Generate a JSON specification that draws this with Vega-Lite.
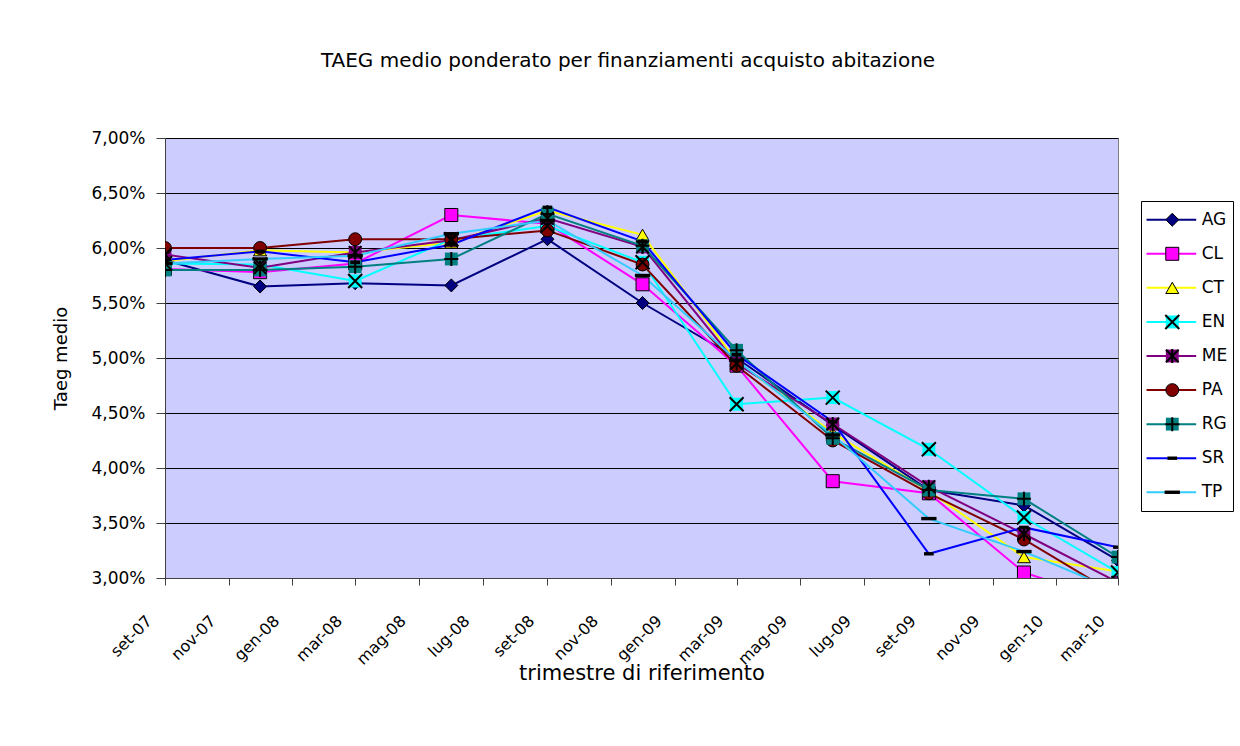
{
  "$schema": "https://vega.github.io/schema/vega-lite/v6.json",
  "background": "white",
  "padding": {"left": 52, "top": 50, "right": 6, "bottom": 10},
  "title": {"text": "TAEG medio ponderato per finanziamenti acquisto abitazione", "fontSize": 20, "fontWeight": "normal", "font": "DejaVu Sans", "color": "#000", "anchor": "middle", "offset": 58, "dx": -15},
  "datasets": {
    "taeg": [
      {"date": "2007-09-01", "series": "AG", "value": 0.0589}, {"date": "2007-12-01", "series": "AG", "value": 0.0565}, {"date": "2008-03-01", "series": "AG", "value": 0.0568}, {"date": "2008-06-01", "series": "AG", "value": 0.0566}, {"date": "2008-09-01", "series": "AG", "value": 0.0608}, {"date": "2008-12-01", "series": "AG", "value": 0.0550}, {"date": "2009-03-01", "series": "AG", "value": 0.0500}, {"date": "2009-06-01", "series": "AG", "value": 0.0439}, {"date": "2009-09-01", "series": "AG", "value": 0.0380}, {"date": "2009-12-01", "series": "AG", "value": 0.0366}, {"date": "2010-03-01", "series": "AG", "value": 0.0316},
      {"date": "2007-09-01", "series": "CL", "value": 0.0581}, {"date": "2007-12-01", "series": "CL", "value": 0.0578}, {"date": "2008-03-01", "series": "CL", "value": 0.0586}, {"date": "2008-06-01", "series": "CL", "value": 0.0630}, {"date": "2008-09-01", "series": "CL", "value": 0.0622}, {"date": "2008-12-01", "series": "CL", "value": 0.0567}, {"date": "2009-03-01", "series": "CL", "value": 0.0493}, {"date": "2009-06-01", "series": "CL", "value": 0.0388}, {"date": "2009-09-01", "series": "CL", "value": 0.0377}, {"date": "2009-12-01", "series": "CL", "value": 0.0305}, {"date": "2010-03-01", "series": "CL", "value": 0.0277},
      {"date": "2007-09-01", "series": "CT", "value": 0.0588}, {"date": "2007-12-01", "series": "CT", "value": 0.0598}, {"date": "2008-03-01", "series": "CT", "value": 0.0596}, {"date": "2008-06-01", "series": "CT", "value": 0.0605}, {"date": "2008-09-01", "series": "CT", "value": 0.0634}, {"date": "2008-12-01", "series": "CT", "value": 0.0612}, {"date": "2009-03-01", "series": "CT", "value": 0.0497}, {"date": "2009-06-01", "series": "CT", "value": 0.0432}, {"date": "2009-09-01", "series": "CT", "value": 0.0379}, {"date": "2009-12-01", "series": "CT", "value": 0.0319}, {"date": "2010-03-01", "series": "CT", "value": 0.0306},
      {"date": "2007-09-01", "series": "EN", "value": 0.0586}, {"date": "2007-12-01", "series": "EN", "value": 0.0585}, {"date": "2008-03-01", "series": "EN", "value": 0.0570}, {"date": "2008-06-01", "series": "EN", "value": 0.0608}, {"date": "2008-09-01", "series": "EN", "value": 0.0620}, {"date": "2008-12-01", "series": "EN", "value": 0.0587}, {"date": "2009-03-01", "series": "EN", "value": 0.0458}, {"date": "2009-06-01", "series": "EN", "value": 0.0464}, {"date": "2009-09-01", "series": "EN", "value": 0.0417}, {"date": "2009-12-01", "series": "EN", "value": 0.0355}, {"date": "2010-03-01", "series": "EN", "value": 0.0305},
      {"date": "2007-09-01", "series": "ME", "value": 0.0594}, {"date": "2007-12-01", "series": "ME", "value": 0.0582}, {"date": "2008-03-01", "series": "ME", "value": 0.0596}, {"date": "2008-06-01", "series": "ME", "value": 0.0607}, {"date": "2008-09-01", "series": "ME", "value": 0.0627}, {"date": "2008-12-01", "series": "ME", "value": 0.0601}, {"date": "2009-03-01", "series": "ME", "value": 0.0495}, {"date": "2009-06-01", "series": "ME", "value": 0.0440}, {"date": "2009-09-01", "series": "ME", "value": 0.0383}, {"date": "2009-12-01", "series": "ME", "value": 0.0340}, {"date": "2010-03-01", "series": "ME", "value": 0.0296},
      {"date": "2007-09-01", "series": "PA", "value": 0.0600}, {"date": "2007-12-01", "series": "PA", "value": 0.0600}, {"date": "2008-03-01", "series": "PA", "value": 0.0608}, {"date": "2008-06-01", "series": "PA", "value": 0.0608}, {"date": "2008-09-01", "series": "PA", "value": 0.0616}, {"date": "2008-12-01", "series": "PA", "value": 0.0585}, {"date": "2009-03-01", "series": "PA", "value": 0.0493}, {"date": "2009-06-01", "series": "PA", "value": 0.0425}, {"date": "2009-09-01", "series": "PA", "value": 0.0377}, {"date": "2009-12-01", "series": "PA", "value": 0.0335}, {"date": "2010-03-01", "series": "PA", "value": 0.0284},
      {"date": "2007-09-01", "series": "RG", "value": 0.0580}, {"date": "2007-12-01", "series": "RG", "value": 0.0580}, {"date": "2008-03-01", "series": "RG", "value": 0.0583}, {"date": "2008-06-01", "series": "RG", "value": 0.0590}, {"date": "2008-09-01", "series": "RG", "value": 0.0631}, {"date": "2008-12-01", "series": "RG", "value": 0.0602}, {"date": "2009-03-01", "series": "RG", "value": 0.0507}, {"date": "2009-06-01", "series": "RG", "value": 0.0427}, {"date": "2009-09-01", "series": "RG", "value": 0.0380}, {"date": "2009-12-01", "series": "RG", "value": 0.0372}, {"date": "2010-03-01", "series": "RG", "value": 0.0319},
      {"date": "2007-09-01", "series": "SR", "value": 0.0589}, {"date": "2007-12-01", "series": "SR", "value": 0.0597}, {"date": "2008-03-01", "series": "SR", "value": 0.0587}, {"date": "2008-06-01", "series": "SR", "value": 0.0603}, {"date": "2008-09-01", "series": "SR", "value": 0.0637}, {"date": "2008-12-01", "series": "SR", "value": 0.0606}, {"date": "2009-03-01", "series": "SR", "value": 0.0503}, {"date": "2009-06-01", "series": "SR", "value": 0.0442}, {"date": "2009-09-01", "series": "SR", "value": 0.0322}, {"date": "2009-12-01", "series": "SR", "value": 0.0346}, {"date": "2010-03-01", "series": "SR", "value": 0.0328},
      {"date": "2007-09-01", "series": "TP", "value": 0.0586}, {"date": "2007-12-01", "series": "TP", "value": 0.0590}, {"date": "2008-03-01", "series": "TP", "value": 0.0593}, {"date": "2008-06-01", "series": "TP", "value": 0.0613}, {"date": "2008-09-01", "series": "TP", "value": 0.0625}, {"date": "2008-12-01", "series": "TP", "value": 0.0575}, {"date": "2009-03-01", "series": "TP", "value": 0.0498}, {"date": "2009-06-01", "series": "TP", "value": 0.0430}, {"date": "2009-09-01", "series": "TP", "value": 0.0354}, {"date": "2009-12-01", "series": "TP", "value": 0.0324}, {"date": "2010-03-01", "series": "TP", "value": 0.0288}
    ]
  },
  "data": {"name": "taeg"},
  "spacing": 21,
  "resolve": {"scale": {"x": "independent", "y": "independent", "color": "independent", "shape": "independent", "size": "independent", "stroke": "independent"}},
  "hconcat": [
    {
      "width": 953,
      "height": 440,
      "view": {"fill": "#CCCCFF", "stroke": "#808080"},
      "encoding": {
        "x": {
          "field": "date", "type": "temporal",
          "scale": {"type": "utc", "domain": [{"year": 2007, "month": 9, "date": 1, "utc": true}, {"year": 2010, "month": 3, "date": 1, "utc": true}], "nice": false},
          "axis": {
            "title": "trimestre di riferimento", "grid": false,
            "tickCount": {"interval": "month", "step": 2},
            "labelExpr": "['gen','feb','mar','apr','mag','giu','lug','ago','set','ott','nov','dic'][utcmonth(datum.value)] + '-' + utcFormat(datum.value, '%y')",
            "labelAngle": -45, "labelAlign": "right", "labelBaseline": "middle",
            "labelOffset": -16, "labelPadding": 33, "tickSize": 7,
            "labelOverlap": false, "labelFlush": false,
            "labelFontSize": 16, "titleFontSize": 21, "titlePadding": -5
          }
        },
        "y": {
          "field": "value", "type": "quantitative",
          "scale": {"domain": [0.03, 0.07], "nice": false, "zero": false},
          "axis": {
            "title": "Taeg medio",
            "values": [0.03, 0.035, 0.04, 0.045, 0.05, 0.055, 0.06, 0.065, 0.07],
            "labelExpr": "replace(format(datum.value, '.2%'), '.', ',')",
            "grid": true, "gridColor": "#000", "gridOpacity": 1, "gridWidth": 1,
            "tickSize": 9, "labelPadding": 11, "titlePadding": 20,
            "labelFontSize": 17, "titleFontSize": 18
          }
        }
      },
      "layer": [
        {
          "mark": {"type": "line", "strokeWidth": 2, "clip": true},
          "encoding": {
            "color": {"field": "series", "type": "nominal", "scale": {"domain": ["AG", "CL", "CT", "EN", "ME", "PA", "RG", "SR", "TP"], "range": ["#000080", "#FF00FF", "#FFFF00", "#00FFFF", "#800080", "#800000", "#008080", "#0000FF", "#33CCFF"]}, "legend": null}
          }
        },
        {
          "transform": [{"filter": {"field": "series", "oneOf": ["AG", "CL", "CT", "EN", "ME", "PA", "RG"]}}],
          "mark": {"type": "point", "filled": true, "opacity": 1, "strokeWidth": 1, "clip": true},
          "encoding": {
            "color": {"field": "series", "type": "nominal", "scale": {"domain": ["AG", "CL", "CT", "EN", "ME", "PA", "RG", "SR", "TP"], "range": ["#000080", "#FF00FF", "#FFFF00", "#00FFFF", "#800080", "#800000", "#008080", "#0000FF", "#33CCFF"]}, "legend": null},
            "shape": {"field": "series", "type": "nominal", "scale": {"domain": ["AG", "CL", "CT", "EN", "ME", "PA", "RG"], "range": ["diamond", "square", "triangle-up", "square", "square", "circle", "square"]}, "legend": null},
            "size": {"field": "series", "type": "ordinal", "scale": {"domain": ["AG", "CL", "CT", "EN", "ME", "PA", "RG"], "range": [170, 165, 190, 324, 324, 144, 324]}, "legend": null},
            "stroke": {"field": "series", "type": "nominal", "scale": {"domain": ["AG", "CL", "CT", "EN", "ME", "PA", "RG"], "range": ["#000000", "#000000", "#000000", "transparent", "transparent", "#000000", "transparent"]}, "legend": null}
          }
        },
        {
          "transform": [{"filter": {"field": "series", "oneOf": ["EN", "ME", "RG", "SR", "TP"]}}],
          "mark": {"type": "point", "filled": true, "fill": "#000", "stroke": "#000", "strokeWidth": 2, "size": 196, "opacity": 1, "clip": true},
          "encoding": {
            "shape": {"field": "series", "type": "nominal", "scale": {"domain": ["EN", "ME", "RG", "SR", "TP"], "range": ["M-1,-1L1,1M-1,1L1,-1", "M-0.9,-0.9L0.9,0.9M-0.9,0.9L0.9,-0.9M0,-1L0,1", "M-1,0L1,0M0,-1L0,1", "M-0.55,-0.1L0.55,-0.1L0.55,0.1L-0.55,0.1Z", "M-0.95,-0.1L0.95,-0.1L0.95,0.1L-0.95,0.1Z"]}, "legend": null}
          }
        }
      ],
      "resolve": {"scale": {"shape": "independent"}}
    },
    {
      "spacing": 20,
      "vconcat": [
        {
          "width": 92,
          "height": 42,
          "view": {"fill": null, "stroke": null},
          "transform": [{"filter": "false"}],
          "mark": {"type": "text"},
          "encoding": {}
        },
        {
          "width": 92,
          "height": 310,
          "view": {"fill": "white", "stroke": "#000"},
          "transform": [{"aggregate": [{"op": "count", "as": "n"}], "groupby": ["series"]}],
          "encoding": {
            "y": {"field": "series", "type": "nominal", "scale": {"type": "point", "domain": ["AG", "CL", "CT", "EN", "ME", "PA", "RG", "SR", "TP"], "padding": 0.55}, "axis": null}
          },
          "layer": [
            {
              "mark": {"type": "rule", "strokeWidth": 2},
              "encoding": {
                "x": {"datum": 0.06, "type": "quantitative", "scale": {"domain": [0, 1]}, "axis": null},
                "x2": {"datum": 0.6},
                "color": {"field": "series", "type": "nominal", "scale": {"domain": ["AG", "CL", "CT", "EN", "ME", "PA", "RG", "SR", "TP"], "range": ["#000080", "#FF00FF", "#FFFF00", "#00FFFF", "#800080", "#800000", "#008080", "#0000FF", "#33CCFF"]}, "legend": null}
              }
            },
            {
              "transform": [{"filter": {"field": "series", "oneOf": ["AG", "CL", "CT", "EN", "ME", "PA", "RG"]}}],
              "mark": {"type": "point", "filled": true, "opacity": 1, "strokeWidth": 1},
              "encoding": {
                "x": {"datum": 0.34, "type": "quantitative"},
                "color": {"field": "series", "type": "nominal", "scale": {"domain": ["AG", "CL", "CT", "EN", "ME", "PA", "RG", "SR", "TP"], "range": ["#000080", "#FF00FF", "#FFFF00", "#00FFFF", "#800080", "#800000", "#008080", "#0000FF", "#33CCFF"]}, "legend": null},
                "shape": {"field": "series", "type": "nominal", "scale": {"domain": ["AG", "CL", "CT", "EN", "ME", "PA", "RG"], "range": ["diamond", "square", "triangle-up", "square", "square", "circle", "square"]}, "legend": null},
                "size": {"field": "series", "type": "ordinal", "scale": {"domain": ["AG", "CL", "CT", "EN", "ME", "PA", "RG"], "range": [170, 165, 190, 324, 324, 144, 324]}, "legend": null},
                "stroke": {"field": "series", "type": "nominal", "scale": {"domain": ["AG", "CL", "CT", "EN", "ME", "PA", "RG"], "range": ["#000000", "#000000", "#000000", "transparent", "transparent", "#000000", "transparent"]}, "legend": null}
              }
            },
            {
              "transform": [{"filter": {"field": "series", "oneOf": ["EN", "ME", "RG", "SR", "TP"]}}],
              "mark": {"type": "point", "filled": true, "fill": "#000", "stroke": "#000", "strokeWidth": 2, "size": 196, "opacity": 1},
              "encoding": {
                "x": {"datum": 0.34, "type": "quantitative"},
                "shape": {"field": "series", "type": "nominal", "scale": {"domain": ["EN", "ME", "RG", "SR", "TP"], "range": ["M-1,-1L1,1M-1,1L1,-1", "M-0.9,-0.9L0.9,0.9M-0.9,0.9L0.9,-0.9M0,-1L0,1", "M-1,0L1,0M0,-1L0,1", "M-0.55,-0.1L0.55,-0.1L0.55,0.1L-0.55,0.1Z", "M-0.95,-0.1L0.95,-0.1L0.95,0.1L-0.95,0.1Z"]}, "legend": null}
              }
            },
            {
              "mark": {"type": "text", "align": "left", "baseline": "middle", "fontSize": 17, "color": "#000"},
              "encoding": {
                "x": {"datum": 0.66, "type": "quantitative"},
                "text": {"field": "series", "type": "nominal"}
              }
            }
          ],
          "resolve": {"scale": {"shape": "independent"}}
        }
      ]
    }
  ],
  "config": {
    "font": "DejaVu Sans",
    "axis": {"labelColor": "#000", "titleColor": "#000", "titleFontWeight": "normal", "domainColor": "#404040", "tickColor": "#404040", "labelFont": "DejaVu Sans", "titleFont": "DejaVu Sans"}
  }
}
